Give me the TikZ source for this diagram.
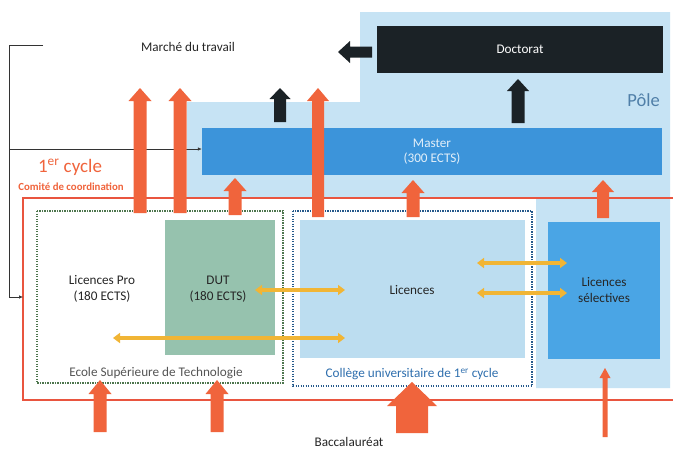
\documentclass[tikz,border=0pt]{standalone}
\usepackage{fontspec}
\setmainfont{Carlito}
\usetikzlibrary{arrows.meta}
\definecolor{pole}{HTML}{C6E3F4}
\definecolor{mastercol}{HTML}{3C94DA}
\definecolor{doccol}{HTML}{1B2226}
\definecolor{liccol}{HTML}{BCDDF0}
\definecolor{lscol}{HTML}{4AA5E5}
\definecolor{dutcol}{HTML}{96C2AE}
\definecolor{orng}{HTML}{F0643C}
\definecolor{redline}{HTML}{E9553F}
\definecolor{yel}{HTML}{F1B535}
\definecolor{poletxt}{HTML}{4F7FA8}
\definecolor{esttxt}{HTML}{555555}
\definecolor{cutxt}{HTML}{2F6FAE}
\newcommand{\blkup}[7]{%
  \fill[#1] (#2-#5,#3) -- (#2-#5,#4+#7) -- (#2-#6,#4+#7) -- (#2,#4) -- (#2+#6,#4+#7) -- (#2+#5,#4+#7) -- (#2+#5,#3) -- cycle;}
\tikzset{
  boxnode/.style={minimum width=#1, inner sep=0pt, align=center},
  txt/.style={align=center, inner sep=1pt},
  yarrow/.style={yel, line width=3.4pt, {Triangle[width=10pt,length=7pt]}-{Triangle[width=10pt,length=7pt]}},
  thinarrow/.style={black!80, line width=0.6pt, -{Latex[length=4pt,width=3.5pt]}},
}
\begin{document}
\begin{tikzpicture}[x=1pt,y=-1pt,font=\fontsize{13.2}{15.5}\selectfont]
\useasboundingbox[fill=white] (0,0) rectangle (673,450);
% Pole region
\fill[pole] (360,12) -- (670,12) -- (670,388) -- (536,388) -- (536,198) -- (187,198) -- (187,102) -- (360,102) -- cycle;
\node[txt, text=poletxt, font=\fontsize{18.5}{21}\selectfont, anchor=east] (poletext) at (661,100) {Pôle};
% red frame
\draw[redline, line width=1.8pt] (673,198) -- (23,198) -- (23,400) -- (673,400);
\node[txt, text=orng, font=\fontsize{19}{21}\selectfont] (cycle) at (70,167) {1\textsuperscript{er} cycle};
\node[txt, text=orng, font=\bfseries\fontsize{10.8}{12}\selectfont] (comite) at (71,187) {Comité de coordination};
% Master and Doctorat
\node[boxnode=460pt, minimum height=47pt, fill=mastercol, text=white!85!mastercol] (master) at (432,151.5) {Master\\(300 ECTS)};
\node[boxnode=286pt, minimum height=47pt, fill=doccol, text=white] (doc) at (520,49.5) {Doctorat};
\node[txt, text=black!85] (market) at (188,47) {Marché du travail};
% dotted boxes
\draw[black!60!green!40!gray, line width=1.4pt, dash pattern=on 1.3pt off 1.2pt] (37,211) rectangle (283,383);
\draw[cutxt!80!black, line width=1.4pt, dash pattern=on 1.3pt off 1.2pt] (293,211) rectangle (532,386);
% inner boxes
\node[boxnode=110pt, minimum height=135pt, fill=dutcol] (dut) at (220,287.5) {};
\node[txt, text=black!85] (duttext) at (218,289) {DUT\\(180 ECTS)};
\node[boxnode=225pt, minimum height=138pt, fill=liccol] (lic) at (412.5,289) {};
\node[txt, text=black!85] (lictext) at (412,290) {Licences};
\node[boxnode=112pt, minimum height=137pt, fill=lscol, text=black!85] (ls) at (604,290) {Licences\\sélectives};
\node[txt, text=black!85] (lpro) at (102,289) {Licences Pro\\(180 ECTS)};
\node[txt, text=esttxt] (est) at (156,373) {Ecole Supérieure de Technologie};
\node[txt, text=cutxt] (cu) at (412,374) {Collège universitaire de 1\textsuperscript{er} cycle};
\node[txt, text=black!85] (bac) at (349,442) {Baccalauréat};
% thin connector
\coordinate (c1) at (9,45);
\coordinate (c2) at (9,297);
\coordinate (c3) at (23,297);
\coordinate (c4) at (9,149);
\draw[thinarrow] (43,45) -- (c1) -- (c2) -- (c3);
\draw[thinarrow] (c4) -- (master.west |- c4);
% yellow double arrows
\draw[yarrow] (255,290) -- (345,290);
\draw[yarrow] (113,338) -- (345,338);
\draw[yarrow] (477,263) -- (567,263);
\draw[yarrow] (477,293) -- (567,293);
% orange block arrows
\blkup{orng}{140}{213}{88}{6.5}{11.5}{13}
\blkup{orng}{180}{213}{88}{6.5}{11.5}{13}
\blkup{orng}{235}{215}{178}{6.5}{11.5}{13}
\blkup{orng}{318}{217}{88}{6}{11}{13}
\blkup{orng}{413}{217}{180}{6.5}{11.5}{13}
\blkup{orng}{603}{218}{180}{6}{11}{12}
\blkup{orng}{100}{432}{380}{6.5}{11.5}{14}
\blkup{orng}{217}{432}{380}{6.5}{11.5}{14}
\blkup{orng}{412}{433}{382}{16}{25}{24}
\blkup{orng}{605}{437}{368}{2.5}{5.5}{10}
% black block arrows
\blkup{doccol}{280}{122}{88}{6}{10.5}{11}
\blkup{doccol}{518}{123}{79}{6.5}{11}{12}
\fill[doccol] (372,46.5) -- (350,46.5) -- (350,41) -- (338,52) -- (350,63) -- (350,57.5) -- (372,57.5) -- cycle;
\end{tikzpicture}
\end{document}
